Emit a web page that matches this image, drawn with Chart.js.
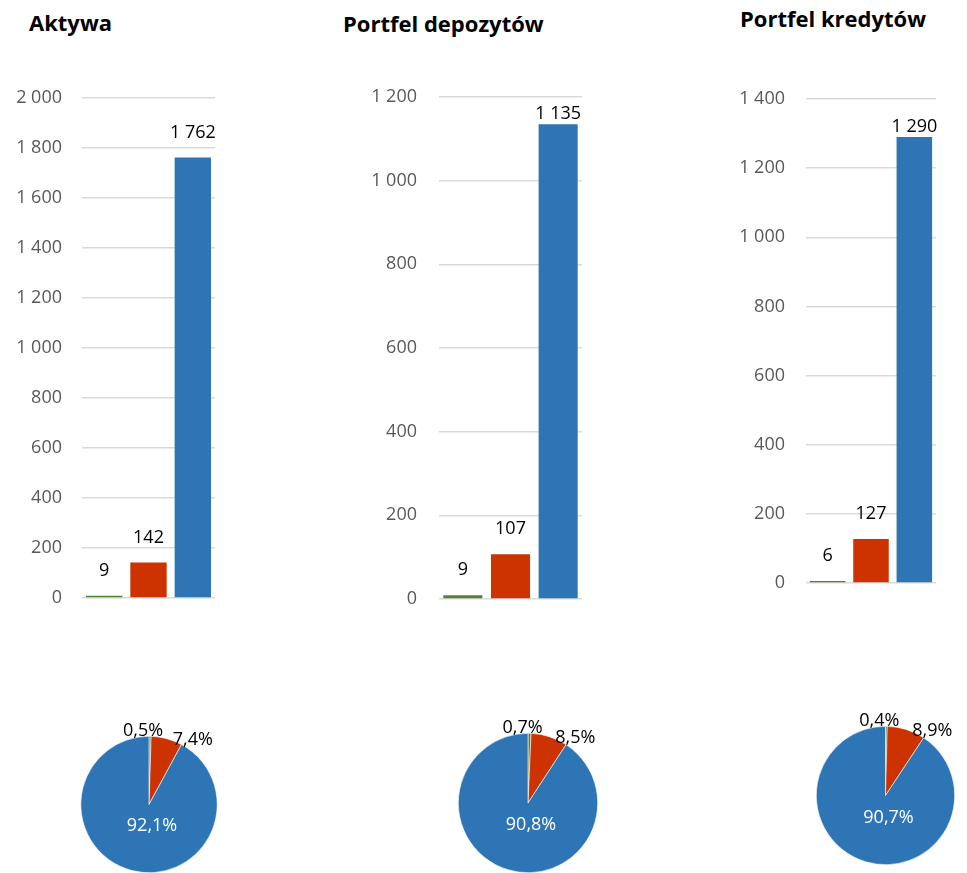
<!DOCTYPE html>
<html>
<head>
<meta charset="utf-8">
<script src="https://cdn.jsdelivr.net/npm/chart.js@4/dist/chart.umd.min.js"></script>
<style>
  body { margin: 0; background: #fff; width: 967px; height: 873px; position: relative; overflow: hidden; font-family: "Open Sans", sans-serif; }
  .box { position: absolute; }
  .title { position: absolute; font-weight: bold; font-size: 22px; line-height: 30px; color: #000; white-space: nowrap; }
</style>
</head>
<body>
<div class="title" style="left:29px; top:7px;">Aktywa</div>
<div class="title" style="left:343px; top:8px;">Portfel depozytów</div>
<div class="title" style="left:740px; top:3px;">Portfel kredytów</div>

<script>
// data
const categories = ['1', '2', '3'];
const aktywa = [9, 142, 1762];
const depozyty = [9, 107, 1135];
const kredyty = [6, 127, 1290];
const aktywaShare = [0.5, 7.4, 92.1];
const depozytyShare = [0.7, 8.5, 90.8];
const kredytyShare = [0.4, 8.9, 90.7];
const axisMax = [2000, 1200, 1400];
const axisStep = 200;

const colors = ['#548235', '#CC3300', '#2E75B6'];
const fontFamily = '"Open Sans", sans-serif';

function fmt(v) {
    return String(v).replace(/\B(?=(\d{3})+(?!\d))/g, ' ');
}
function pct(v) {
    return v.toFixed(1).replace('.', ',') + '%';
}

function makeCanvas(left, top, w, h) {
    let div = document.createElement('div');
    div.className = 'box';
    div.style.left = left + 'px';
    div.style.top = top + 'px';
    let canvas = document.createElement('canvas');
    canvas.width = w;
    canvas.height = h;
    canvas.style.width = w + 'px';
    canvas.style.height = h + 'px';
    div.appendChild(canvas);
    document.body.appendChild(div);
    return canvas;
}

// value labels above the bars
const barLabels = {
    id: 'barLabels',
    afterDatasetsDraw(chart) {
        let ctx = chart.ctx;
        let meta = chart.getDatasetMeta(0);
        let values = chart.data.datasets[0].data;
        ctx.save();
        ctx.font = '18px ' + fontFamily;
        ctx.fillStyle = '#000';
        ctx.textAlign = 'center';
        ctx.textBaseline = 'middle';
        meta.data.forEach((bar, i) => {
            let y = bar.y - 25;
            if (y < chart.chartArea.top + 20) y = bar.y - 10;
            ctx.fillText(fmt(values[i]), bar.x, y);
        });
        ctx.restore();
    }
};

// percentage labels of the pies
const pieLabels = {
    id: 'pieLabels',
    afterDatasetsDraw(chart) {
        let ctx = chart.ctx;
        let meta = chart.getDatasetMeta(0);
        let values = chart.data.datasets[0].data;
        ctx.save();
        ctx.font = '18px ' + fontFamily;
        meta.data.forEach((arc, i) => {
            let mid = (arc.startAngle + arc.endAngle) / 2;
            let r = arc.outerRadius;
            let ex = arc.x + r * Math.cos(mid);
            let ey = arc.y + r * Math.sin(mid);
            if (i == 0) {
                ctx.fillStyle = '#000';
                ctx.textAlign = 'center';
                ctx.textBaseline = 'bottom';
                ctx.fillText(pct(values[i]), ex - 7, arc.y - r + 4);
            } else if (i == 1) {
                ctx.fillStyle = '#000';
                ctx.textAlign = 'left';
                ctx.textBaseline = 'middle';
                ctx.fillText(pct(values[i]), ex + 6, ey + 1);
            } else {
                ctx.fillStyle = '#fff';
                ctx.textAlign = 'center';
                ctx.textBaseline = 'middle';
                ctx.fillText(pct(values[i]), arc.x + 3, arc.y + r * 0.32);
            }
        });
        ctx.restore();
    }
};

function barChart(canvas, values, max, axisWidth, tickPad, padding) {
    return new Chart(canvas, {
        type: 'bar',
        data: {
            labels: categories,
            datasets: [{
                data: values,
                backgroundColor: colors,
                barPercentage: 0.82,
                categoryPercentage: 1
            }]
        },
        options: {
            responsive: false,
            animation: false,
            layout: { padding: padding },
            plugins: { legend: { display: false }, tooltip: { enabled: false } },
            scales: {
                x: { display: false },
                y: {
                    min: 0,
                    max: max,
                    border: { display: false },
                    grid: { color: '#d9d9d9', lineWidth: 1.5, drawTicks: false },
                    ticks: {
                        stepSize: axisStep,
                        padding: tickPad,
                        color: '#595959',
                        font: { family: fontFamily, size: 18 },
                        callback: (v) => fmt(v)
                    },
                    afterFit: (s) => {
                        s.width = axisWidth;
                        s.paddingTop = 0;
                        s.paddingBottom = 0;
                    }
                }
            }
        },
        plugins: [barLabels]
    });
}

function pieChart(canvas, shares, padding) {
    return new Chart(canvas, {
        type: 'pie',
        data: {
            labels: categories,
            datasets: [{
                data: shares,
                backgroundColor: colors,
                borderColor: '#fff',
                borderWidth: 0.6
            }]
        },
        options: {
            responsive: false,
            animation: false,
            layout: { padding: padding },
            plugins: { legend: { display: false }, tooltip: { enabled: false } }
        },
        plugins: [pieLabels]
    });
}

barChart(makeCanvas(0, 80, 230, 540), aktywa, axisMax[0], 82, 20,
    { top: 18, right: 15, bottom: 22, left: 0 });
barChart(makeCanvas(340, 80, 260, 540), depozyty, axisMax[1], 99, 22,
    { top: 17, right: 18, bottom: 21, left: 0 });
barChart(makeCanvas(700, 80, 267, 540), kredyty, axisMax[2], 106, 21,
    { top: 19, right: 31, bottom: 37, left: 0 });

pieChart(makeCanvas(40, 690, 220, 183), aktywaShare,
    { top: 46, right: 41, bottom: 0, left: 39 });
pieChart(makeCanvas(420, 690, 220, 183), depozytyShare,
    { top: 43, right: 41, bottom: 0, left: 37 });
pieChart(makeCanvas(760, 690, 207, 183), kredytyShare,
    { top: 36, right: 10, bottom: 8, left: 54 });
</script>
</body>
</html>
